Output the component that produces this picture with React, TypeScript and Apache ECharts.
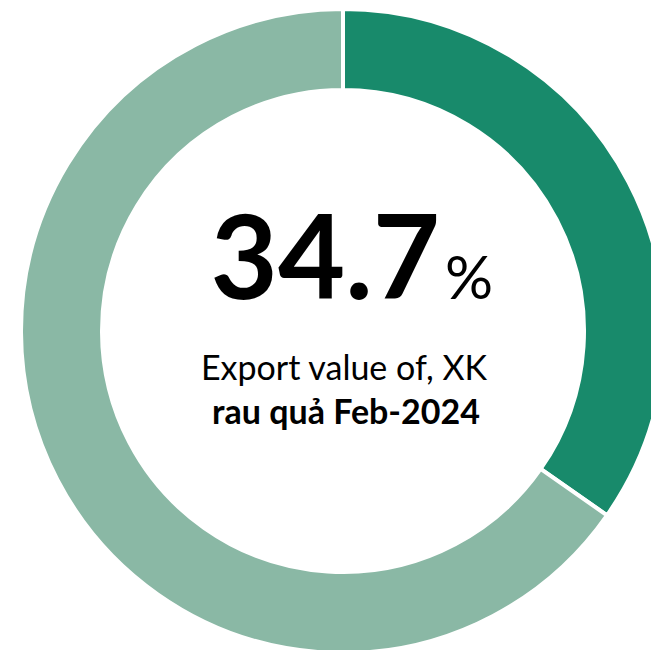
import React, { useEffect, useRef } from "react";
import * as echarts from "echarts";

const categories = ["Rau quả", "Khác"];
const values = [34.7, 65.3];
const colors = ["#188a6b", "#8ab8a5"];
const bigValue = "34.7";
const unit = "%";
const line1 = "Export value of, XK";
const line2 = "rau quả Feb-2024";

export default function App() {
  const ref = useRef<HTMLDivElement>(null);
  useEffect(() => {
    if (!ref.current) return;
    const chart = echarts.init(ref.current, null, { renderer: "svg" });
    const font = "Lato, 'Open Sans', sans-serif";
    chart.setOption({
      animation: false,
      backgroundColor: "#ffffff",
      series: [
        {
          type: "pie",
          center: [343, 331],
          radius: [241, 322],
          startAngle: 90,
          clockwise: true,
          label: { show: false },
          labelLine: { show: false },
          silent: true,
          itemStyle: { borderColor: "#ffffff", borderWidth: 4 },
          data: categories.map((c, i) => ({
            name: c,
            value: values[i],
            itemStyle: { color: colors[i] },
          })),
        },
      ],
      graphic: [
        {
          type: "text",
          x: 440,
          y: 312,
          style: {
            text: bigValue,
            font: `bold 116px ${font}`,
            fill: "#000000",
            textAlign: "right",
            textVerticalAlign: "bottom",
          },
        },
        {
          type: "text",
          x: 445,
          y: 306,
          style: {
            text: unit,
            font: `normal 60px ${font}`,
            fill: "#000000",
            textAlign: "left",
            textVerticalAlign: "bottom",
          },
        },
        {
          type: "text",
          x: 344,
          y: 366,
          style: {
            text: line1,
            font: `normal 34px ${font}`,
            fill: "#000000",
            textAlign: "center",
            textVerticalAlign: "middle",
          },
        },
        {
          type: "text",
          x: 346,
          y: 410,
          style: {
            text: line2,
            font: `bold 34px ${font}`,
            fill: "#000000",
            textAlign: "center",
            textVerticalAlign: "middle",
          },
        },
      ],
    });
    return () => chart.dispose();
  }, []);
  return (
    <div
      ref={ref}
      style={{ position: "absolute", left: 0, top: 0, width: 651, height: 650 }}
    />
  );
}
